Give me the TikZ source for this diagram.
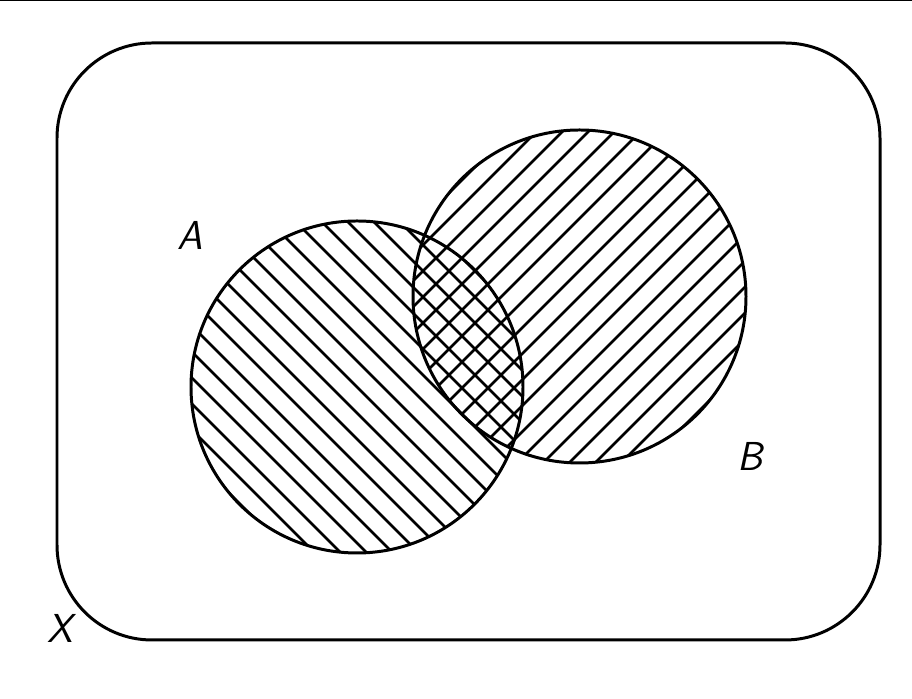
\documentclass[tikz,border=0pt]{standalone}
\usepackage{tikz}
\usetikzlibrary{calc}

\begin{document}
\begin{tikzpicture}[
  outline/.style={draw=black, line width=1.7pt},
  hatch/.style={black, line width=1.5pt},
  setlabel/.style={font=\fontsize{23}{28}\selectfont\sffamily\itshape, inner sep=0pt}
]
  \useasboundingbox (0,0) rectangle (18.24,13.98);
  \draw[line width=1.2pt] (0,13.98) -- (18.24,13.98);

  % universe
  \draw[outline, rounded corners=1.9cm] (1.14,1.18) rectangle (17.6,13.12);

  \coordinate (cA) at (7.14,6.24);
  \coordinate (cB) at (11.59,8.05);

  % hatching of A
  \begin{scope}
    \clip (cA) circle (3.32);
    \foreach \k in {-14,...,14}
      \draw[hatch] ($(cA)+(\k*0.52,0)+(-5,5)$) -- ++(10,-10);
  \end{scope}
  % hatching of B
  \begin{scope}
    \clip (cB) circle (3.33);
    \foreach \k in {-14,...,14}
      \draw[hatch] ($(cB)+(\k*0.52,0)+(-5,-5)$) -- ++(10,10);
  \end{scope}

  \draw[outline] (cA) circle (3.32);
  \draw[outline] (cB) circle (3.33);

  \node[setlabel] (labA) at (3.8,9.28) {A};
  \node[setlabel] (labB) at (15.0,4.86) {B};
  \node[setlabel] (labX) at (1.2,1.42) {X};
\end{tikzpicture}
\end{document}
